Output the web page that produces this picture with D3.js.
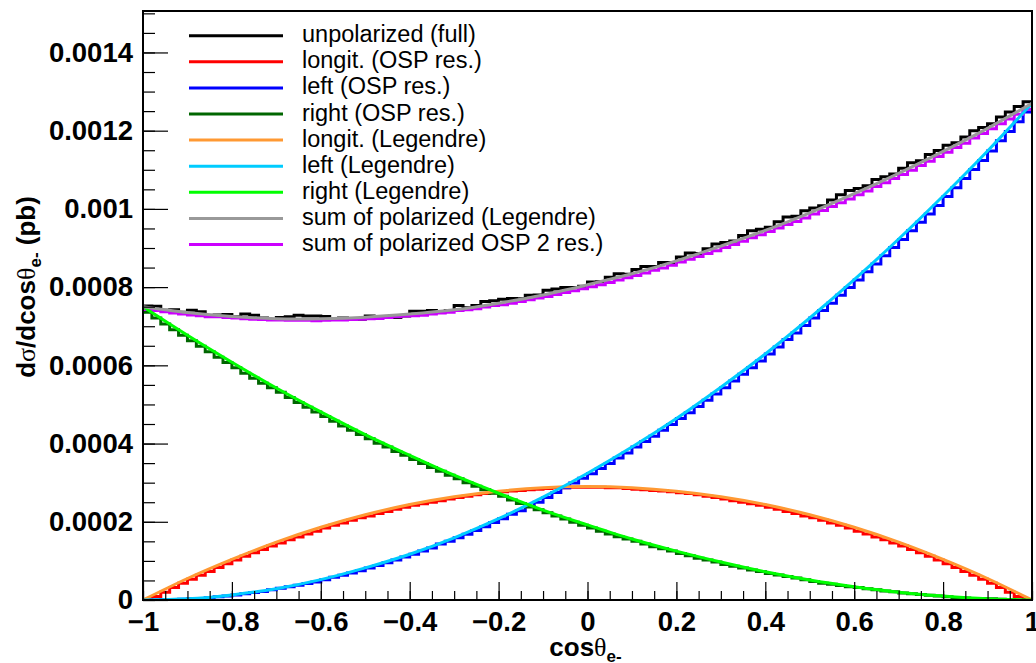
<!DOCTYPE html>
<html>
<head>
<meta charset="utf-8">
<script src="https://cdn.jsdelivr.net/npm/d3@7"></script>
<style>
  body { margin: 0; background: #fff; }
  svg { display: block; font-family: "Liberation Sans", Arial, sans-serif; }
</style>
</head>
<body>
<svg id="chart" width="1036" height="663"></svg>
<script>
// values in units of 1e-4 pb, 100 bins over cos(theta) in [-1, 1]
var UNIT = 1e-4;
var nBins = 100, xMin = -1, xMax = 1;

var unpolarized = [
  7.52, 7.51, 7.41, 7.42, 7.36, 7.41, 7.37, 7.27, 7.29, 7.30,
  7.24, 7.31, 7.28, 7.21, 7.17, 7.22, 7.24, 7.28, 7.26, 7.26,
  7.25, 7.19, 7.21, 7.19, 7.18, 7.26, 7.24, 7.23, 7.22, 7.26,
  7.38, 7.38, 7.40, 7.37, 7.40, 7.53, 7.47, 7.53, 7.63, 7.65,
  7.69, 7.71, 7.70, 7.79, 7.80, 7.92, 7.95, 7.99, 7.99, 8.02,
  8.13, 8.14, 8.25, 8.34, 8.33, 8.45, 8.53, 8.53, 8.63, 8.63,
  8.77, 8.87, 8.86, 8.98, 9.10, 9.14, 9.18, 9.32, 9.44, 9.48,
  9.53, 9.67, 9.79, 9.81, 9.95, 10.02, 10.08, 10.23, 10.36, 10.47,
  10.52, 10.59, 10.75, 10.82, 10.89, 11.04, 11.18, 11.23, 11.39, 11.49,
  11.63, 11.69, 11.84, 12.00, 12.08, 12.18, 12.35, 12.48, 12.62, 12.74
];

var longitOSP = [
  0.01, 0.09, 0.20, 0.32, 0.43, 0.53, 0.63, 0.73, 0.83, 0.93,
  1.02, 1.12, 1.21, 1.29, 1.38, 1.46, 1.54, 1.61, 1.69, 1.76,
  1.84, 1.91, 1.97, 2.04, 2.10, 2.15, 2.21, 2.26, 2.32, 2.37,
  2.42, 2.46, 2.50, 2.54, 2.58, 2.62, 2.65, 2.69, 2.72, 2.74,
  2.77, 2.79, 2.80, 2.82, 2.83, 2.85, 2.87, 2.87, 2.88, 2.88,
  2.88, 2.88, 2.87, 2.87, 2.85, 2.83, 2.82, 2.80, 2.79, 2.77,
  2.74, 2.72, 2.69, 2.65, 2.62, 2.58, 2.54, 2.50, 2.46, 2.42,
  2.37, 2.32, 2.26, 2.21, 2.15, 2.10, 2.04, 1.97, 1.91, 1.84,
  1.76, 1.69, 1.61, 1.54, 1.46, 1.38, 1.29, 1.21, 1.12, 1.02,
  0.93, 0.83, 0.73, 0.63, 0.53, 0.43, 0.32, 0.20, 0.09, 0.01
];

var leftOSP = [
  0.00, 0.00, 0.01, 0.01, 0.02, 0.03, 0.04, 0.06, 0.08, 0.10,
  0.13, 0.16, 0.19, 0.22, 0.26, 0.30, 0.34, 0.38, 0.42, 0.46,
  0.52, 0.58, 0.63, 0.69, 0.75, 0.82, 0.88, 0.95, 1.02, 1.10,
  1.17, 1.25, 1.33, 1.43, 1.50, 1.59, 1.68, 1.78, 1.87, 1.98,
  2.08, 2.19, 2.28, 2.39, 2.50, 2.62, 2.75, 2.87, 2.99, 3.11,
  3.23, 3.36, 3.49, 3.63, 3.76, 3.91, 4.05, 4.19, 4.34, 4.49,
  4.64, 4.79, 4.95, 5.11, 5.27, 5.43, 5.60, 5.77, 5.94, 6.11,
  6.29, 6.47, 6.66, 6.83, 7.02, 7.21, 7.40, 7.59, 7.79, 7.99,
  8.18, 8.39, 8.59, 8.80, 9.01, 9.22, 9.44, 9.66, 9.87, 10.09,
  10.32, 10.54, 10.78, 11.01, 11.24, 11.48, 11.74, 11.98, 12.23, 12.48
];

var rightOSP = [
  7.36, 7.21, 7.06, 6.91, 6.77, 6.63, 6.49, 6.35, 6.21, 6.07,
  5.94, 5.80, 5.67, 5.54, 5.43, 5.31, 5.18, 5.05, 4.93, 4.81,
  4.69, 4.57, 4.45, 4.34, 4.23, 4.12, 4.01, 3.91, 3.80, 3.70,
  3.59, 3.49, 3.39, 3.29, 3.19, 3.10, 3.00, 2.91, 2.82, 2.73,
  2.65, 2.56, 2.47, 2.38, 2.31, 2.23, 2.15, 2.07, 1.99, 1.91,
  1.84, 1.76, 1.69, 1.62, 1.56, 1.50, 1.43, 1.36, 1.31, 1.25,
  1.19, 1.13, 1.07, 1.02, 0.97, 0.91, 0.86, 0.82, 0.77, 0.73,
  0.68, 0.64, 0.60, 0.56, 0.52, 0.47, 0.43, 0.40, 0.37, 0.34,
  0.32, 0.29, 0.26, 0.23, 0.21, 0.18, 0.16, 0.14, 0.12, 0.10,
  0.08, 0.06, 0.05, 0.04, 0.04, 0.03, 0.02, 0.01, 0.00, 0.00
];

var sumOSP = [
  7.43, 7.40, 7.37, 7.34, 7.31, 7.29, 7.27, 7.24, 7.24, 7.22,
  7.21, 7.19, 7.18, 7.17, 7.16, 7.16, 7.15, 7.15, 7.15, 7.14,
  7.15, 7.16, 7.16, 7.17, 7.18, 7.19, 7.20, 7.22, 7.24, 7.26,
  7.27, 7.28, 7.31, 7.34, 7.36, 7.40, 7.42, 7.45, 7.49, 7.53,
  7.55, 7.59, 7.63, 7.68, 7.72, 7.76, 7.81, 7.86, 7.91, 7.96,
  8.01, 8.06, 8.12, 8.18, 8.24, 8.30, 8.36, 8.43, 8.49, 8.56,
  8.64, 8.71, 8.78, 8.86, 8.93, 9.01, 9.09, 9.17, 9.26, 9.34,
  9.42, 9.51, 9.60, 9.68, 9.77, 9.87, 9.96, 10.06, 10.16, 10.25,
  10.36, 10.46, 10.57, 10.67, 10.78, 10.88, 10.99, 11.11, 11.22, 11.34,
  11.45, 11.57, 11.68, 11.81, 11.93, 12.05, 12.18, 12.30, 12.42, 12.55
];

// Legendre fits, sampled every 0.1 in cos(theta)
var cosGrid = [-1, -0.9, -0.8, -0.7, -0.6, -0.5, -0.4, -0.3, -0.2, -0.1, 0,
               0.1, 0.2, 0.3, 0.4, 0.5, 0.6, 0.7, 0.8, 0.9, 1];
var longitLeg = [0, 0.55, 1.04, 1.48, 1.86, 2.18, 2.44, 2.64, 2.78, 2.87, 2.90,
                 2.87, 2.78, 2.64, 2.44, 2.18, 1.86, 1.48, 1.04, 0.55, 0];
var leftLeg = [0, 0.03, 0.13, 0.29, 0.52, 0.82, 1.17, 1.59, 2.08, 2.63, 3.24,
               3.91, 4.64, 5.44, 6.29, 7.21, 8.19, 9.23, 10.33, 11.48, 12.70];
var rightLeg = [7.50, 6.77, 6.08, 5.42, 4.81, 4.23, 3.70, 3.19, 2.73, 2.30, 1.92,
                1.56, 1.25, 0.97, 0.72, 0.51, 0.34, 0.20, 0.10, 0.03, 0];
var sumLeg = [7.50, 7.35, 7.25, 7.19, 7.19, 7.23, 7.31, 7.42, 7.59, 7.80, 8.06,
              8.34, 8.67, 9.05, 9.45, 9.90, 10.39, 10.91, 11.47, 12.06, 12.70];

var xTicks = [-1, -0.8, -0.6, -0.4, -0.2, 0, 0.2, 0.4, 0.6, 0.8, 1];
var xTickLabels = ['\u22121', '\u22120.8', '\u22120.6', '\u22120.4', '\u22120.2', '0', '0.2', '0.4', '0.6', '0.8', '1'];
var yTicks = [0, 0.0002, 0.0004, 0.0006, 0.0008, 0.001, 0.0012, 0.0014];
var yTickLabels = ['0', '0.0002', '0.0004', '0.0006', '0.0008', '0.001', '0.0012', '0.0014'];

var legendLabels = [
  'unpolarized (full)', 'longit. (OSP res.)', 'left (OSP res.)', 'right (OSP res.)',
  'longit. (Legendre)', 'left (Legendre)', 'right (Legendre)',
  'sum of polarized (Legendre)', 'sum of polarized OSP 2 res.)'
];
var legendColors = ['#000000', '#ff0000', '#0000ff', '#006600', '#ff9933',
                    '#00ccff', '#00ff00', '#999999', '#cc00ff'];

var
  fLeft = 143, fRight = 1032, fTop = 11, fBottom = 600,
  x = d3.scaleLinear().domain([xMin, xMax]).range([fLeft, fRight]),
  y = d3.scaleLinear().domain([0, 0.001506]).range([fBottom, fTop]);

var svg = d3.select('#chart');
svg.append('rect').attr('width', 1036).attr('height', 663).attr('fill', '#fff');

svg.append('clipPath').attr('id', 'frame')
  .append('rect').attr('x', fLeft).attr('y', fTop)
  .attr('width', fRight - fLeft).attr('height', fBottom - fTop);

var edges = d3.range(nBins + 1).map(function(i) { return xMin + i * (xMax - xMin) / nBins; });

function stepPoints(vals) {
  var pts = vals.map(function(v, i) { return [edges[i], v]; });
  pts.push([edges[nBins], vals[nBins - 1]]);
  return pts;
}

var histLine = d3.line()
  .x(function(d) { return x(d[0]); })
  .y(function(d) { return y(d[1] * UNIT); })
  .curve(d3.curveStepAfter);

var smoothLine = d3.line()
  .x(function(d) { return x(d[0]); })
  .y(function(d) { return y(d[1] * UNIT); })
  .curve(d3.curveNatural);

var plot = svg.append('g').attr('clip-path', 'url(#frame)');

var hists = [
  [unpolarized, '#000000'],
  [longitOSP, '#ff0000'],
  [leftOSP, '#0000ff'],
  [rightOSP, '#006600'],
  [sumOSP, '#cc00ff']
];
hists.forEach(function(h) {
  plot.append('path')
    .attr('d', histLine(stepPoints(h[0])))
    .attr('fill', 'none')
    .attr('stroke', h[1])
    .attr('stroke-width', 3);
});

var fits = [
  [longitLeg, '#ff9933'],
  [leftLeg, '#00ccff'],
  [rightLeg, '#00ff00'],
  [sumLeg, '#999999']
];
fits.forEach(function(f) {
  plot.append('path')
    .attr('d', smoothLine(cosGrid.map(function(c, i) { return [c, f[0][i]]; })))
    .attr('fill', 'none')
    .attr('stroke', f[1])
    .attr('stroke-width', 3);
});

// axes, ROOT style: ticks inside the frame
var yMinor = d3.range(0, 0.00151, 0.00005);
var xMinor = d3.range(-1, 1.001, 0.05);

svg.append('g').attr('transform', 'translate(' + fLeft + ',0)')
  .call(d3.axisLeft(y).tickValues(yMinor).tickSizeInner(-12).tickSizeOuter(0).tickFormat(''))
  .call(function(g) { g.select('.domain').remove(); });
svg.append('g').attr('transform', 'translate(' + fLeft + ',0)')
  .call(d3.axisLeft(y).tickValues(yTicks).tickSizeInner(-25).tickSizeOuter(0).tickPadding(10)
    .tickFormat(function(d, i) { return yTickLabels[i]; }))
  .call(function(g) { g.select('.domain').remove(); });

svg.append('g').attr('transform', 'translate(0,' + fBottom + ')')
  .call(d3.axisBottom(x).tickValues(xMinor).tickSizeInner(-9).tickSizeOuter(0).tickFormat(''))
  .call(function(g) { g.select('.domain').remove(); });
svg.append('g').attr('transform', 'translate(0,' + fBottom + ')')
  .call(d3.axisBottom(x).tickValues(xTicks).tickSizeInner(-18).tickSizeOuter(0).tickPadding(11)
    .tickFormat(function(d, i) { return xTickLabels[i]; }))
  .call(function(g) { g.select('.domain').remove(); });

svg.selectAll('.tick line').attr('stroke', '#000').attr('stroke-width', 1.2);
svg.selectAll('.tick text')
  .attr('font-family', '"Liberation Sans", Arial, sans-serif')
  .attr('font-weight', 'bold')
  .attr('font-size', 27.5)
  .attr('fill', '#000');

svg.append('rect')
  .attr('x', fLeft).attr('y', fTop)
  .attr('width', fRight - fLeft).attr('height', fBottom - fTop)
  .attr('fill', 'none').attr('stroke', '#000').attr('stroke-width', 2);

// axis titles
var xt = svg.append('text')
  .attr('x', (fLeft + fRight) / 2 - 2).attr('y', 656)
  .attr('text-anchor', 'middle')
  .attr('font-weight', 'bold').attr('font-size', 26);
xt.append('tspan').text('cos');
xt.append('tspan').attr('font-family', '"Liberation Serif", serif').attr('font-weight', 'normal').text('\u03b8');
xt.append('tspan').attr('font-size', 17).attr('dy', 6).text('e-');

var yt = svg.append('text')
  .attr('transform', 'translate(35,287) rotate(-90)')
  .attr('text-anchor', 'middle')
  .attr('font-weight', 'bold').attr('font-size', 26);
yt.append('tspan').text('d');
yt.append('tspan').attr('font-family', '"Liberation Serif", serif').attr('font-weight', 'normal').text('\u03c3');
yt.append('tspan').text('/dcos');
yt.append('tspan').attr('font-family', '"Liberation Serif", serif').attr('font-weight', 'normal').text('\u03b8');
yt.append('tspan').attr('font-size', 17).attr('dy', 6).text('e-');
yt.append('tspan').attr('dy', -6).text(' (pb)');

// legend
var legend = svg.append('g');
var rowY = d3.scaleLinear().domain([0, 8]).range([35.7, 244.5]);
legendLabels.forEach(function(lab, i) {
  legend.append('line')
    .attr('x1', 189).attr('x2', 283)
    .attr('y1', rowY(i)).attr('y2', rowY(i))
    .attr('stroke', legendColors[i]).attr('stroke-width', 3);
  legend.append('text')
    .attr('x', 302).attr('y', rowY(i) + 6.5)
    .attr('font-size', 23.5).attr('fill', '#000')
    .text(lab);
});
</script>
</body>
</html>
